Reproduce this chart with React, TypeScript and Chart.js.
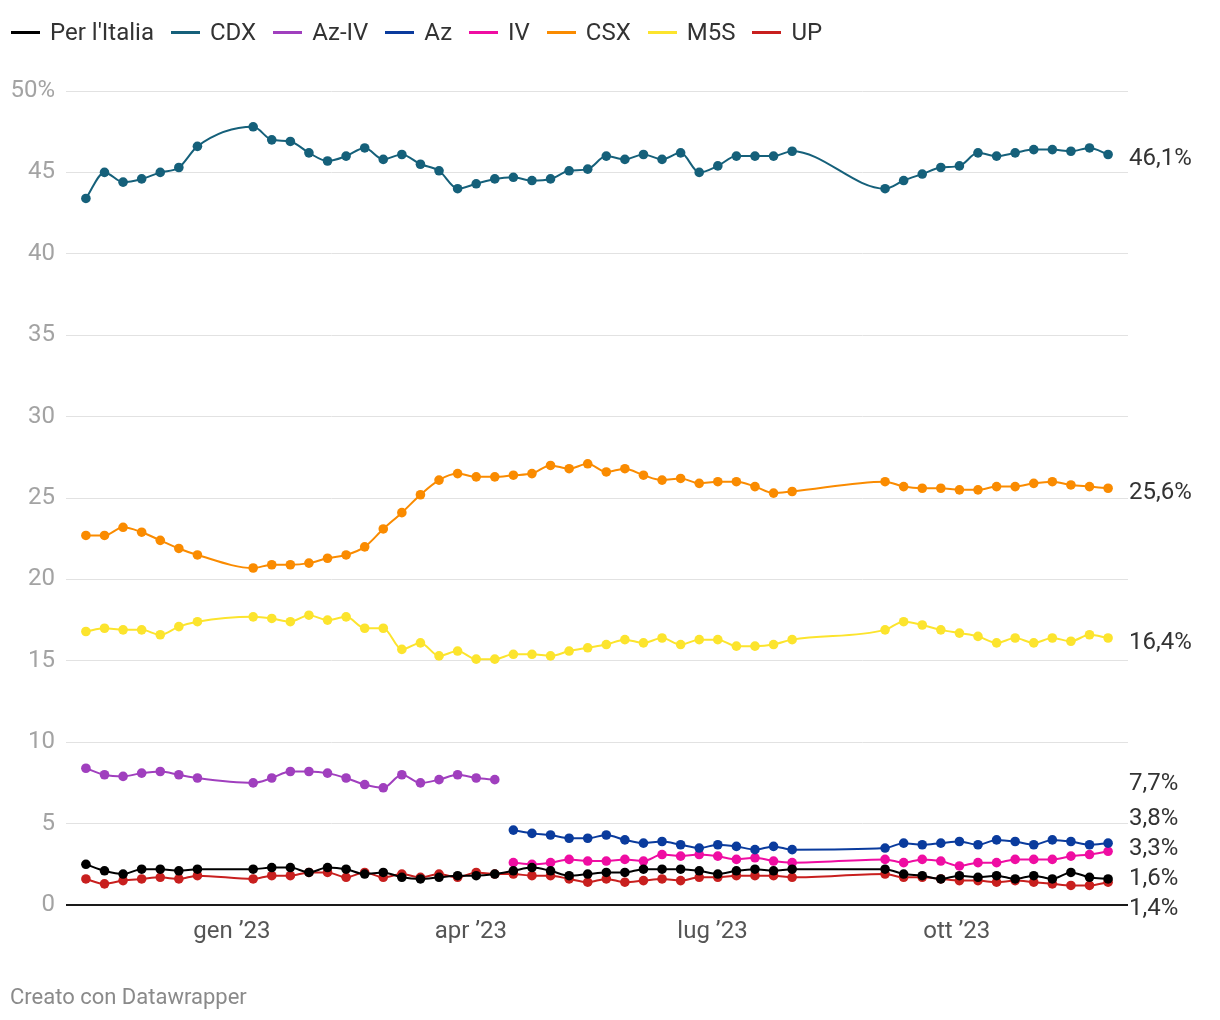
import React, { useEffect, useRef } from "react";
import { Chart, registerables } from "chart.js";

Chart.register(...registerables);

// Survey dates (weekly)
const dates: string[] = [
  "2022-11-07", "2022-11-14", "2022-11-21", "2022-11-28", "2022-12-05", "2022-12-12", "2022-12-19",
  "2023-01-09", "2023-01-16", "2023-01-23", "2023-01-30", "2023-02-06", "2023-02-13", "2023-02-20", "2023-02-27",
  "2023-03-06", "2023-03-13", "2023-03-20", "2023-03-27", "2023-04-03", "2023-04-10", "2023-04-17", "2023-04-24",
  "2023-05-01", "2023-05-08", "2023-05-15", "2023-05-22", "2023-05-29", "2023-06-05", "2023-06-12", "2023-06-19",
  "2023-06-26", "2023-07-03", "2023-07-10", "2023-07-17", "2023-07-24", "2023-07-31",
  "2023-09-04", "2023-09-11", "2023-09-18", "2023-09-25", "2023-10-02", "2023-10-09", "2023-10-16", "2023-10-23",
  "2023-10-30", "2023-11-06", "2023-11-13", "2023-11-20", "2023-11-27",
];

const perItalia: (number | null)[] = [
  2.5, 2.1, 1.9, 2.2, 2.2, 2.1, 2.2,
  2.2, 2.3, 2.3, 2.0, 2.3, 2.2, 1.9, 2.0, 1.7, 1.6, 1.7, 1.8, 1.8, 1.9,
  2.1, 2.3, 2.1, 1.8, 1.9, 2.0, 2.0, 2.2, 2.2, 2.2, 2.1, 1.9, 2.1, 2.2, 2.1, 2.2,
  2.2, 1.9, 1.8, 1.6, 1.8, 1.7, 1.8, 1.6, 1.8, 1.6, 2.0, 1.7, 1.6,
];

const cdx: (number | null)[] = [
  43.4, 45.0, 44.4, 44.6, 45.0, 45.3, 46.6,
  47.8, 47.0, 46.9, 46.2, 45.7, 46.0, 46.5, 45.8, 46.1, 45.5, 45.1, 44.0, 44.3, 44.6,
  44.7, 44.5, 44.6, 45.1, 45.2, 46.0, 45.8, 46.1, 45.8, 46.2, 45.0, 45.4, 46.0, 46.0, 46.0, 46.3,
  44.0, 44.5, 44.9, 45.3, 45.4, 46.2, 46.0, 46.2, 46.4, 46.4, 46.3, 46.5, 46.1,
];

const azIv: (number | null)[] = [
  8.4, 8.0, 7.9, 8.1, 8.2, 8.0, 7.8,
  7.5, 7.8, 8.2, 8.2, 8.1, 7.8, 7.4, 7.2, 8.0, 7.5, 7.7, 8.0, 7.8, 7.7,
  null, null, null, null, null, null, null, null, null, null, null, null, null, null, null, null,
  null, null, null, null, null, null, null, null, null, null, null, null, null,
];

const az: (number | null)[] = [
  null, null, null, null, null, null, null,
  null, null, null, null, null, null, null, null, null, null, null, null, null, null,
  4.6, 4.4, 4.3, 4.1, 4.1, 4.3, 4.0, 3.8, 3.9, 3.7, 3.5, 3.7, 3.6, 3.4, 3.6, 3.4,
  3.5, 3.8, 3.7, 3.8, 3.9, 3.7, 4.0, 3.9, 3.7, 4.0, 3.9, 3.7, 3.8,
];

const iv: (number | null)[] = [
  null, null, null, null, null, null, null,
  null, null, null, null, null, null, null, null, null, null, null, null, null, null,
  2.6, 2.5, 2.6, 2.8, 2.7, 2.7, 2.8, 2.7, 3.1, 3.0, 3.1, 3.0, 2.8, 2.9, 2.7, 2.6,
  2.8, 2.6, 2.8, 2.7, 2.4, 2.6, 2.6, 2.8, 2.8, 2.8, 3.0, 3.1, 3.3,
];

const csx: (number | null)[] = [
  22.7, 22.7, 23.2, 22.9, 22.4, 21.9, 21.5,
  20.7, 20.9, 20.9, 21.0, 21.3, 21.5, 22.0, 23.1, 24.1, 25.2, 26.1, 26.5, 26.3, 26.3,
  26.4, 26.5, 27.0, 26.8, 27.1, 26.6, 26.8, 26.4, 26.1, 26.2, 25.9, 26.0, 26.0, 25.7, 25.3, 25.4,
  26.0, 25.7, 25.6, 25.6, 25.5, 25.5, 25.7, 25.7, 25.9, 26.0, 25.8, 25.7, 25.6,
];

const m5s: (number | null)[] = [
  16.8, 17.0, 16.9, 16.9, 16.6, 17.1, 17.4,
  17.7, 17.6, 17.4, 17.8, 17.5, 17.7, 17.0, 17.0, 15.7, 16.1, 15.3, 15.6, 15.1, 15.1,
  15.4, 15.4, 15.3, 15.6, 15.8, 16.0, 16.3, 16.1, 16.4, 16.0, 16.3, 16.3, 15.9, 15.9, 16.0, 16.3,
  16.9, 17.4, 17.2, 16.9, 16.7, 16.5, 16.1, 16.4, 16.1, 16.4, 16.2, 16.6, 16.4,
];

const up: (number | null)[] = [
  1.6, 1.3, 1.5, 1.6, 1.7, 1.6, 1.8,
  1.6, 1.8, 1.8, 2.0, 2.0, 1.7, 2.0, 1.7, 1.9, 1.7, 1.9, 1.7, 2.0, 1.9,
  1.9, 1.8, 1.8, 1.6, 1.4, 1.6, 1.4, 1.5, 1.6, 1.5, 1.7, 1.7, 1.8, 1.8, 1.8, 1.7,
  1.9, 1.7, 1.7, 1.6, 1.5, 1.5, 1.4, 1.5, 1.4, 1.3, 1.2, 1.2, 1.4,
];

const seriesNames = ["Per l'Italia", "CDX", "Az-IV", "Az", "IV", "CSX", "M5S", "UP"];
const seriesValues = [perItalia, cdx, azIv, az, iv, csx, m5s, up];
const seriesColors = ["#000000", "#15607a", "#a03fbe", "#0a3b9d", "#ef0da2", "#fa8b00", "#fce42d", "#c81f1e"];

const tickDates = ["2023-01-01", "2023-04-01", "2023-07-01", "2023-10-01"];
const tickLabels = ["gen ’23", "apr ’23", "lug ’23", "ott ’23"];
const yTicks = [0, 5, 10, 15, 20, 25, 30, 35, 40, 45, 50];

const DAY = 86400000;
const toMs = (s: string) => Date.parse(s + "T00:00:00Z");
const FONT = "Roboto, 'Noto Sans', sans-serif";

const endLabelsPlugin = {
  id: "endLabels",
  afterDatasetsDraw(chart: any) {
    const { ctx, chartArea, scales } = chart;
    const yScale = scales.y;
    const items: { text: string; want: number; y: number }[] = [];
    chart.data.datasets.forEach((ds: any) => {
      const pts = ds.data;
      if (!pts.length) return;
      const last = pts[pts.length - 1].y;
      const want = yScale.getPixelForValue(last) + 4.5;
      items.push({ text: last.toFixed(1).replace(".", ",") + "%", want, y: want });
    });
    items.sort((a, b) => a.want - b.want);
    const gap = 30;
    const maxY = chartArea.bottom + 3.5;
    const clusters = items.map((it) => ({ items: [it] }));
    const place = (c: any) => {
      const mean = c.items.reduce((s: number, it: any) => s + it.want, 0) / c.items.length;
      let start = mean - ((c.items.length - 1) * gap) / 2;
      const end = start + (c.items.length - 1) * gap;
      if (end > maxY) start -= end - maxY;
      c.items.forEach((it: any, i: number) => (it.y = start + i * gap));
    };
    clusters.forEach(place);
    let merged = true;
    while (merged) {
      merged = false;
      for (let i = 0; i < clusters.length - 1; i++) {
        const a = clusters[i];
        const b = clusters[i + 1];
        const aBottom = a.items[a.items.length - 1].y;
        const bTop = b.items[0].y;
        if (bTop - aBottom < gap) {
          const c = { items: [...a.items, ...b.items] };
          place(c);
          clusters.splice(i, 2, c);
          merged = true;
          break;
        }
      }
    }
    ctx.save();
    ctx.font = `24px ${FONT}`;
    ctx.fillStyle = "#333333";
    ctx.textAlign = "left";
    ctx.textBaseline = "middle";
    items.forEach((it) => ctx.fillText(it.text, chartArea.right + 1, it.y));
    ctx.restore();
  },
};

export default function App() {
  const canvasRef = useRef<HTMLCanvasElement | null>(null);

  useEffect(() => {
    document.body.style.margin = "0";
    const canvas = canvasRef.current;
    if (!canvas) return;
    const datasets = seriesNames.map((name, i) => ({
      label: name,
      data: dates
        .map((d, j) => ({ x: toMs(d), y: seriesValues[i][j] }))
        .filter((p) => p.y !== null && p.y !== undefined),
      borderColor: seriesColors[i],
      backgroundColor: seriesColors[i],
      pointBackgroundColor: seriesColors[i],
      pointBorderColor: seriesColors[i],
      pointBorderWidth: 0,
      pointRadius: 4.8,
      borderWidth: 2,
      cubicInterpolationMode: "monotone" as const,
      fill: false,
    }));
    const jan1 = toMs("2023-01-01");
    const chart = new Chart(canvas, {
      type: "line",
      data: { datasets },
      plugins: [endLabelsPlugin],
      options: {
        animation: false,
        responsive: false,
        devicePixelRatio: 1,
        layout: { padding: { top: 91, right: 92, left: 0, bottom: 0 } },
        plugins: { legend: { display: false }, tooltip: { enabled: false } },
        scales: {
          x: {
            type: "linear",
            min: jan1 - 62.5 * DAY,
            max: jan1 + 337.5 * DAY,
            grid: { display: false, drawTicks: false },
            border: { display: false },
            afterFit: (s: any) => {
              s.height = 115;
            },
            afterBuildTicks: (s: any) => {
              s.ticks = tickDates.map((d) => ({ value: toMs(d) }));
            },
            ticks: {
              autoSkip: false,
              maxRotation: 0,
              padding: 13,
              color: "#555555",
              font: { family: FONT, size: 24 },
              callback: (v: any) => {
                const idx = tickDates.findIndex((d) => toMs(d) === v);
                return idx >= 0 ? tickLabels[idx] : "";
              },
            },
          },
          y: {
            min: 0,
            max: 50,
            afterFit: (s: any) => {
              s.width = 66;
            },
            afterBuildTicks: (s: any) => {
              s.ticks = yTicks.map((v) => ({ value: v }));
            },
            border: { display: false },
            grid: {
              drawTicks: false,
              color: (c: any) => (c.tick && c.tick.value === 0 ? "#1a1a1a" : "#e2e2e2"),
              lineWidth: (c: any) => (c.tick && c.tick.value === 0 ? 2 : 1),
            },
            ticks: {
              padding: 11,
              color: "#a3a3a3",
              font: { family: FONT, size: 24 },
              callback: (v: any) => (v === 50 ? "50%" : String(v)),
            },
          },
        },
      },
    });
    return () => chart.destroy();
  }, []);

  return (
    <div style={{ position: "relative", width: 1220, height: 1020, background: "#fff", fontFamily: FONT }}>
      <canvas ref={canvasRef} width={1220} height={1020} style={{ position: "absolute", left: 0, top: 0 }} />
      <div
        style={{
          position: "absolute",
          left: 11,
          top: 16,
          display: "flex",
          alignItems: "center",
          fontSize: 24,
          color: "#333",
          lineHeight: "32px",
        }}
      >
        {seriesNames.map((n, i) => (
          <div key={n} style={{ display: "flex", alignItems: "center", marginRight: 17 }}>
            <span style={{ display: "inline-block", width: 29, height: 3, background: seriesColors[i], marginRight: 10 }} />
            <span>{n}</span>
          </div>
        ))}
      </div>
      <div style={{ position: "absolute", left: 10, top: 983, fontSize: 22, lineHeight: "28px", color: "#8a8a8a" }}>
        Creato con Datawrapper
      </div>
    </div>
  );
}
